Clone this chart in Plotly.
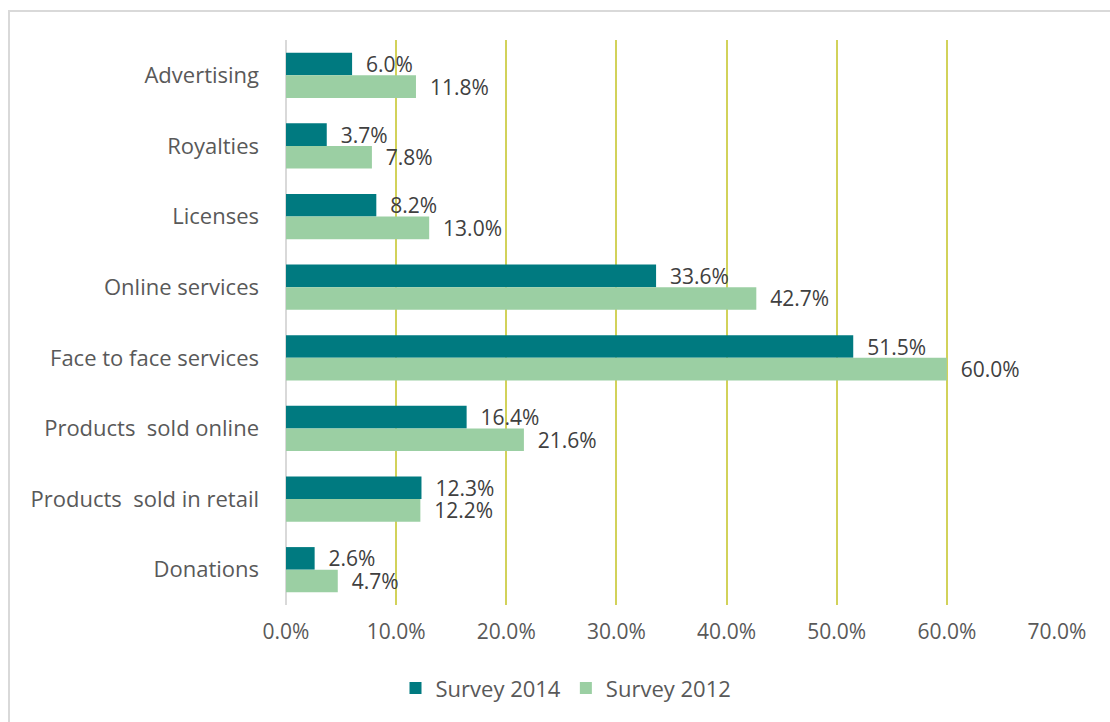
import plotly.graph_objects as go

categories = ["Advertising", "Royalties", "Licenses", "Online services",
              "Face to face services", "Products  sold online",
              "Products  sold in retail", "Donations"]
survey_2014 = [6.0, 3.7, 8.2, 33.6, 51.5, 16.4, 12.3, 2.6]
survey_2012 = [11.8, 7.8, 13.0, 42.7, 60.0, 21.6, 12.2, 4.7]
x_ticks = [0, 10, 20, 30, 40, 50, 60, 70]

FONT = "Open Sans"
LABEL_COLOR = "#404040"
AXIS_COLOR = "#595959"

fig = go.Figure()
for name, vals, color in [("Survey 2014", survey_2014, "#007A80"),
                          ("Survey 2012", survey_2012, "#9BCFA3")]:
    fig.add_trace(go.Bar(
        y=categories, x=vals, name=name, orientation="h",
        marker=dict(color=color, line=dict(width=0)),
        text=[f"\u00a0\u00a0{v:.1f}%" for v in vals], textposition="outside",
        constraintext="none",
        textfont=dict(family=FONT, size=21, color=LABEL_COLOR),
        cliponaxis=False,
    ))

W, H = 1110, 722
ml, mr, mt, mb = 286, 53, 40, 117
pw, ph = W - ml - mr, H - mt - mb

fig.update_layout(
    width=W, height=H,
    margin=dict(l=ml, r=mr, t=mt, b=mb),
    paper_bgcolor="white", plot_bgcolor="white",
    barmode="group", bargap=0.36, bargroupgap=0.0,
    font=dict(family=FONT, color=AXIS_COLOR),
    showlegend=True,
    legend=dict(orientation="h", x=(566 - ml) / pw, xanchor="center",
                y=-0.11, yanchor="top",
                font=dict(family=FONT, size=22, color=AXIS_COLOR),
                traceorder="normal", itemwidth=30, tracegroupgap=0),
    xaxis=dict(range=[0, 70], tickvals=x_ticks,
               ticktext=[f"{t:.1f}%" for t in x_ticks],
               showgrid=True, gridcolor="#D2D25A", gridwidth=2,
               zeroline=True, zerolinecolor="#D9D9D9", zerolinewidth=2,
               showline=False, ticks="", ticklabelstandoff=12,
               tickfont=dict(family=FONT, size=21, color=AXIS_COLOR)),
    yaxis=dict(autorange="reversed", showgrid=False, showline=False, ticks="",
               ticklabelstandoff=26,
               tickfont=dict(family=FONT, size=22, color=AXIS_COLOR)),
    shapes=[dict(type="rect", xref="paper", yref="paper",
                 x0=(9 - ml) / pw, x1=1.2, y0=-0.4, y1=1 + (mt - 11) / ph,
                 line=dict(color="#D9D9D9", width=2), fillcolor="rgba(0,0,0,0)",
                 layer="below")],
)

fig.write_html("out.html")
